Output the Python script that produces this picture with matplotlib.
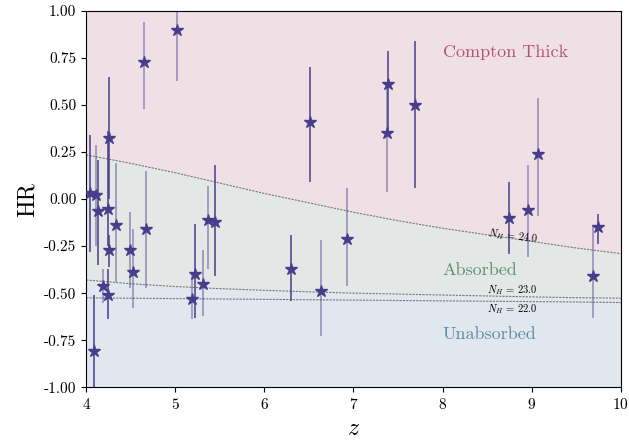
import numpy as np
import matplotlib
matplotlib.use("Agg")
import matplotlib.pyplot as plt

plt.rcParams["font.family"] = "serif"
plt.rcParams["font.serif"] = ["cmr10", "DejaVu Serif"]
plt.rcParams["mathtext.fontset"] = "cm"
plt.rcParams["axes.formatter.use_mathtext"] = True

# sources: redshift, hardness ratio, lower / upper error bar ends
z = [4.045, 4.11, 4.135, 4.26, 4.24, 4.26, 4.25, 4.19, 4.09, 4.34, 4.49, 4.53,
     4.67, 4.65, 5.02, 5.19, 5.22, 5.31, 5.37, 5.45, 6.30, 6.64, 6.93, 6.51,
     7.39, 7.38, 7.69, 8.75, 8.96, 9.07, 9.74, 9.69]
hr = [0.03, 0.02, -0.065, 0.325, -0.05, -0.27, -0.51, -0.46, -0.81, -0.14, -0.27, -0.39,
      -0.16, 0.73, 0.90, -0.53, -0.40, -0.45, -0.11, -0.12, -0.37, -0.49, -0.21, 0.41,
      0.61, 0.35, 0.50, -0.10, -0.06, 0.24, -0.15, -0.41]
hr_lo = [-0.28, -0.25, -0.35, 0.0, -0.25, -0.36, -0.64, -0.55, -1.05, -0.44, -0.47, -0.58,
         -0.47, 0.48, 0.63, -0.64, -0.63, -0.62, -0.37, -0.41, -0.54, -0.73, -0.46, 0.09,
         0.35, 0.04, 0.06, -0.29, -0.31, -0.09, -0.24, -0.63]
hr_hi = [0.34, 0.29, 0.21, 0.65, 0.36, -0.19, -0.37, -0.37, -0.51, 0.19, -0.07, -0.16,
         0.15, 0.94, 1.05, -0.40, -0.13, -0.27, 0.07, 0.18, -0.19, -0.22, 0.06, 0.70,
         0.79, 0.61, 0.84, 0.09, 0.18, 0.54, -0.08, -0.14]
faint = [False, True, False, False, False, False, False, True, False, True, True, True,
         True, True, True, True, False, True, True, False, False, True, True, False,
         False, True, False, False, True, True, False, True]

# column density tracks (log NH) in HR vs z
z_grid = [4, 4.5, 5, 5.5, 6, 6.5, 7, 7.5, 8, 8.5, 9, 9.5, 10]
nh24 = [0.235, 0.19, 0.14, 0.085, 0.03, -0.02, -0.07, -0.115, -0.155, -0.19, -0.225, -0.26, -0.29]
nh23 = [-0.43, -0.45, -0.465, -0.476, -0.485, -0.493, -0.50, -0.505, -0.51, -0.515, -0.52, -0.524, -0.527]
nh22 = [-0.525, -0.527, -0.529, -0.531, -0.533, -0.535, -0.537, -0.539, -0.541, -0.543, -0.545, -0.547, -0.55]

star_col = "darkslateblue"

fig = plt.figure(figsize=(6.29, 4.4), dpi=100)
ax = fig.add_axes([0.137, 0.12, 0.85, 0.855])

ax.fill_between(z_grid, nh24, 1.0, color="#efe0e6", lw=0)
ax.fill_between(z_grid, nh23, nh24, color="#e3e8e6", lw=0)
ax.fill_between(z_grid, -1.0, nh23, color="#e1e7ee", lw=0)
for track in (nh24, nh23, nh22):
    ax.plot(z_grid, track, ls="--", color="#777777", lw=0.8, dashes=(2, 1))

z = np.array(z)
hr = np.array(hr)
lo = hr - np.array(hr_lo)
hi = np.array(hr_hi) - hr
faint = np.array(faint)
for sel, a in ((faint, 0.55), (~faint, 1.0)):
    ax.errorbar(z[sel], hr[sel], yerr=[lo[sel], hi[sel]], fmt="none",
                ecolor=star_col, elinewidth=1.1, alpha=a)
ax.plot(z, hr, ls="none", marker="*", ms=9, color=star_col, zorder=5)

ax.text(8.0, 0.78, "Compton Thick", color="#b5526f", fontsize=13, va="center")
ax.text(8.0, -0.38, "Absorbed", color="#5e8c74", fontsize=13, va="center")
ax.text(8.0, -0.72, "Unabsorbed", color="#5d8aa8", fontsize=13, va="center")
ax.text(8.5, -0.2, r"$N_H$ = 24.0", fontsize=7.5, rotation=-7, va="center")
ax.text(8.5, -0.485, r"$N_H$ = 23.0", fontsize=7.5, va="center")
ax.text(8.5, -0.585, r"$N_H$ = 22.0", fontsize=7.5, va="center")

ax.set_xlim(4, 10)
ax.set_ylim(-1, 1)
ax.set_yticks(np.arange(-1, 1.01, 0.25))
ax.yaxis.set_major_formatter(matplotlib.ticker.FormatStrFormatter("%.2f"))
ax.tick_params(labelsize=11)
ax.set_xlabel("$z$", fontsize=17)
ax.set_ylabel("HR", fontsize=17)

fig.savefig("out.png", dpi=100)
